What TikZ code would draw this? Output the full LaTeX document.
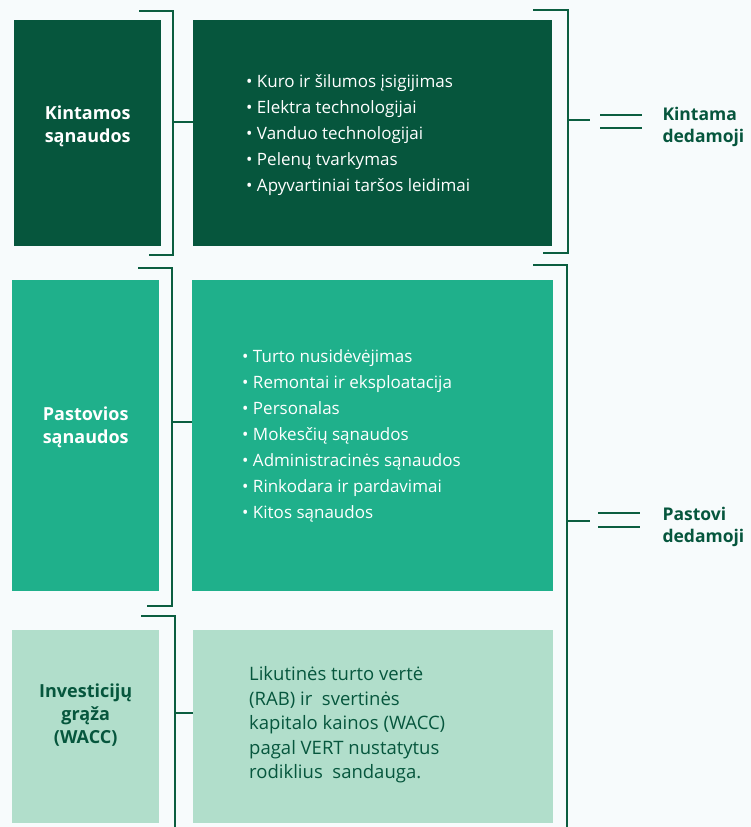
\documentclass[tikz,border=0pt]{standalone}
\usepackage{fontspec}
\setmainfont{Open Sans}
\usetikzlibrary{positioning}
\definecolor{darkgreen}{HTML}{06563D}
\definecolor{midgreen}{HTML}{1FB08B}
\definecolor{lightgreen}{HTML}{B1DECB}
\definecolor{linegreen}{HTML}{0B5E40}
\definecolor{bgcol}{HTML}{F7FBFC}
\tikzset{
  box/.style={anchor=north west,inner sep=0pt,draw=none},
  lbl/.style={align=center,font=\fontsize{18}{23}\selectfont\bfseries},
  listtxt/.style={anchor=west,align=left,inner sep=0pt,font=\fontsize{17}{26}\selectfont},
  brace/.style={draw=linegreen,line width=2pt},
  eqline/.style={draw=linegreen,line width=1.6pt},
  sidelbl/.style={anchor=west,align=left,text=darkgreen,font=\fontsize{17.5}{22}\selectfont\bfseries}
}
\begin{document}
\begin{tikzpicture}[x=1pt,y=-1pt,line cap=butt,line join=miter]

% ---- background / page size ----
\fill[bgcol] (0,0) rectangle (751,827);
\useasboundingbox (0,0) rectangle (751,827);

% ---- row 1: kintamos sanaudos ----
\node[box,fill=darkgreen,minimum width=147pt,minimum height=226pt] (kin) at (14,20) {};
\node[box,fill=darkgreen,minimum width=359pt,minimum height=226pt] (kinlist) at (193,20) {};
\node[lbl,text=white] at ([yshift=7pt]kin.center) {Kintamos\\sąnaudos};
\node[listtxt,text=white] (kinitems) at (246,135) {%
  \textbullet\ Kuro ir šilumos įsigijimas\\
  \textbullet\ Elektra technologijai\\
  \textbullet\ Vanduo technologijai\\
  \textbullet\ Pelenų tvarkymas\\
  \textbullet\ Apyvartiniai taršos leidimai};

% ---- row 2: pastovios sanaudos ----
\node[box,fill=midgreen,minimum width=147pt,minimum height=311pt] (pas) at (12,280) {};
\node[box,fill=midgreen,minimum width=361pt,minimum height=311pt] (paslist) at (192,280) {};
\node[lbl,text=white] at ([yshift=8pt]pas.center) {Pastovios\\sąnaudos};
\node[listtxt,text=white] (pasitems) at (242,436) {%
  \textbullet\ Turto nusidėvėjimas\\
  \textbullet\ Remontai ir eksploatacija\\
  \textbullet\ Personalas\\
  \textbullet\ Mokesčių sąnaudos\\
  \textbullet\ Administracinės sąnaudos\\
  \textbullet\ Rinkodara ir pardavimai\\
  \textbullet\ Kitos sąnaudos};

% ---- row 3: investiciju graza ----
\node[box,fill=lightgreen,minimum width=147pt,minimum height=193pt] (inv) at (12,630) {};
\node[box,fill=lightgreen,minimum width=360pt,minimum height=193pt] (invtxt) at (193,630) {};
\node[lbl,text=darkgreen] at ([yshift=12pt]inv.center) {Investicijų\\grąža\\(WACC)};
\node[listtxt,text=darkgreen,font=\fontsize{18.5}{24.5}\selectfont] (invitems) at (249,725) {%
  Likutinės turto vertė\\
  (RAB) ir\ \ svertinės\\
  kapitalo kainos (WACC)\\
  pagal VERT nustatytus\\
  rodiklius\ \ sandauga.};

% ---- left brackets with stubs to the right boxes ----
\draw[brace] (139,11) -- (173,11) -- (173,255) -- (149,255);
\coordinate (kinbr) at (173,122);
\draw[brace] (kinbr) -- (kinlist.west |- kinbr);

\draw[brace] (138,268) -- (172,268) -- (172,606) -- (147,606);
\coordinate (pasbr) at (172,422);
\draw[brace] (pasbr) -- (paslist.west |- pasbr);

\draw[brace] (141,616) -- (175,616) -- (175,827);
\coordinate (invbr) at (175,713);
\draw[brace] (invbr) -- (invtxt.west |- invbr);

% ---- right brackets, equals signs and labels ----
\draw[brace] (533,10) -- (568,10) -- (568,253) -- (543,253);
\draw[brace] (568,120) -- (590,120);
\draw[eqline] (600,115) -- (642,115);
\draw[eqline] (600,128) -- (642,128);
\node[sidelbl] (kint) at (659,127) {Kintama\\dedamoji};

\draw[brace] (533,265) -- (567,265) -- (567,827);
\draw[brace] (567,521) -- (590,521);
\draw[eqline] (598,513) -- (640,513);
\draw[eqline] (598,527) -- (640,527);
\node[sidelbl] (past) at (659,527) {Pastovi\\dedamoji};

\end{tikzpicture}
\end{document}
